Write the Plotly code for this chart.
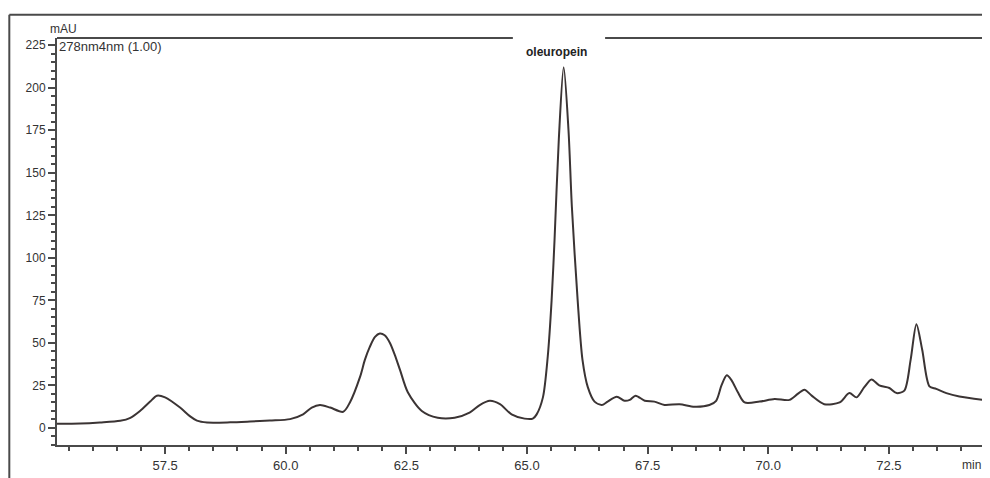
import plotly.graph_objects as go

# Retention time (min) and absorbance (mAU)
time_min = [55.24, 55.74, 56.15, 56.57, 56.78, 56.98, 57.19, 57.33, 57.50, 57.81,
            58.02, 58.16, 58.37, 58.85, 59.26, 59.67, 60.09, 60.36, 60.54, 60.71,
            60.92, 61.19, 61.33, 61.54, 61.64, 61.74, 61.85, 61.95, 62.05, 62.16,
            62.26, 62.37, 62.53, 62.82,
            63.15, 63.50, 63.81, 64.02, 64.23, 64.44, 64.68, 64.95, 65.12, 65.20,
            65.33, 65.43, 65.51, 65.57, 65.66, 65.76, 65.86, 65.93, 66.05, 66.15,
            66.26, 66.40, 66.55, 66.67, 66.86, 67.02, 67.13, 67.25, 67.44, 67.64,
            67.85, 68.16, 68.47, 68.78, 68.92, 69.03, 69.14, 69.24, 69.37, 69.51,
            69.82, 70.13, 70.44, 70.61, 70.75, 70.90, 71.16, 71.48, 71.68, 71.83,
            71.99, 72.14, 72.30, 72.51, 72.66, 72.82, 72.95, 73.07, 73.19, 73.34,
            73.48, 73.69, 73.96, 74.44]
absorbance_mau = [2.5, 2.6, 3.2, 4.2, 6, 10, 15.5, 19, 18, 12,
                  6.8, 4.3, 3.2, 3.3, 3.8, 4.4, 5.2, 8, 12, 13.5,
                  12, 9.5, 15, 30, 40, 47.5, 53.5, 55.5, 54.5, 50,
                  43, 34, 21, 10,
                  6, 6, 9, 13.5, 16, 14, 8, 5.5, 5.5, 8,
                  18, 42, 75, 110, 170, 212, 175, 130, 75, 40,
                  24, 15.5, 13.5, 15.5, 18.4, 16, 16.5, 19, 16, 15.5,
                  13.5, 14, 12.5, 13.5, 16, 25, 31, 28, 21, 15,
                  15.5, 17, 16.5, 20, 22.5, 19, 14, 15, 20.5, 18,
                  24, 28.5, 25, 23.5, 20.5, 22, 40, 61, 46, 24.5,
                  23, 20.5, 18.5, 16.5]

x_ticks = [57.5, 60.0, 62.5, 65.0, 67.5, 70.0, 72.5]
x_tick_labels = ["57.5", "60.0", "62.5", "65.0", "67.5", "70.0", "72.5"]
y_ticks = [0, 25, 50, 75, 100, 125, 150, 175, 200, 225]
y_tick_labels = [str(v) for v in y_ticks]

peak_label = "oleuropein"
peak_time = 65.76

LINE = "#3b3434"
AXIS = "#4a4a4a"
TXT = "#333333"
FONT = "Liberation Sans, Arial, sans-serif"

fig = go.Figure()
fig.add_trace(go.Scatter(
    x=time_min, y=absorbance_mau, mode="lines",
    line=dict(color=LINE, width=2, shape="spline", smoothing=0.8),
    hoverinfo="skip", showlegend=False,
))

x_range = [55.26, 74.45]
y_range = [-10, 229.2]

fig.update_layout(
    width=982, height=470,
    margin=dict(l=49, r=7, t=30, b=33, autoexpand=False),
    paper_bgcolor="white", plot_bgcolor="white",
    font=dict(family=FONT, size=12, color=TXT),
    showlegend=False,
    xaxis=dict(
        range=x_range, tickvals=x_ticks, ticktext=x_tick_labels,
        showgrid=False, zeroline=False, automargin=False,
        showline=True, linecolor=AXIS, linewidth=2,
        ticks="outside", ticklen=7, tickwidth=2, tickcolor=AXIS,
        minor=dict(dtick=0.5, tick0=55.0, ticks="outside", ticklen=4,
                   tickwidth=2, tickcolor=AXIS, showgrid=False),
        tickfont=dict(family=FONT, size=13, color=TXT),
    ),
    yaxis=dict(
        range=y_range, tickvals=y_ticks, ticktext=y_tick_labels,
        showgrid=False, zeroline=False, automargin=False,
        showline=True, linecolor=AXIS, linewidth=2,
        ticks="outside", ticklen=7, tickwidth=1.5, tickcolor=AXIS,
        minor=dict(dtick=5, tick0=0, ticks="outside", ticklen=4,
                   tickwidth=1.5, tickcolor=AXIS, showgrid=False),
        tickfont=dict(family=FONT, size=12, color=TXT),
    ),
)

# right border of the plot area
fig.add_shape(type="line", xref="paper", yref="paper", x0=1, x1=1, y0=0, y1=1,
              line=dict(color=AXIS, width=2))
# top border, interrupted around the peak label
fig.add_shape(type="line", xref="paper", yref="paper", x0=0, x1=0.4923, y0=1, y1=1,
              line=dict(color=AXIS, width=2))
fig.add_shape(type="line", xref="paper", yref="paper", x0=0.5919, x1=1, y0=1, y1=1,
              line=dict(color=AXIS, width=2))
# outer frame (top and left)
fig.add_shape(type="line", xref="paper", yref="paper", x0=-0.0515, x1=1.01, y0=1.0573, y1=1.0573,
              line=dict(color=AXIS, width=2))
fig.add_shape(type="line", xref="paper", yref="paper", x0=-0.0515, x1=-0.0515, y0=1.0573, y1=-0.09,
              line=dict(color=AXIS, width=2))

fig.add_annotation(x=peak_time, xref="x", xshift=-7, y=1, yref="paper", yshift=-14,
                   xanchor="center", yanchor="middle",
                   text="<b>" + peak_label + "</b>", showarrow=False,
                   font=dict(family=FONT, size=12, color="#222"))
fig.add_annotation(x=0.0, xref="paper", y=1, yref="paper", yshift=-8,
                   xanchor="left", yanchor="middle",
                   text="278nm4nm (1.00)", showarrow=False,
                   font=dict(family=FONT, size=13, color=TXT))
fig.add_annotation(x=-0.01, xref="paper", y=1, yref="paper", yshift=9,
                   xanchor="left", yanchor="middle",
                   text="mAU", showarrow=False,
                   font=dict(family=FONT, size=12, color=TXT))
fig.add_annotation(x=0.988, xref="paper", y=0, yref="paper", yshift=-20,
                   xanchor="center", yanchor="middle",
                   text="min", showarrow=False,
                   font=dict(family=FONT, size=12, color=TXT))

fig.write_html("out.html")
